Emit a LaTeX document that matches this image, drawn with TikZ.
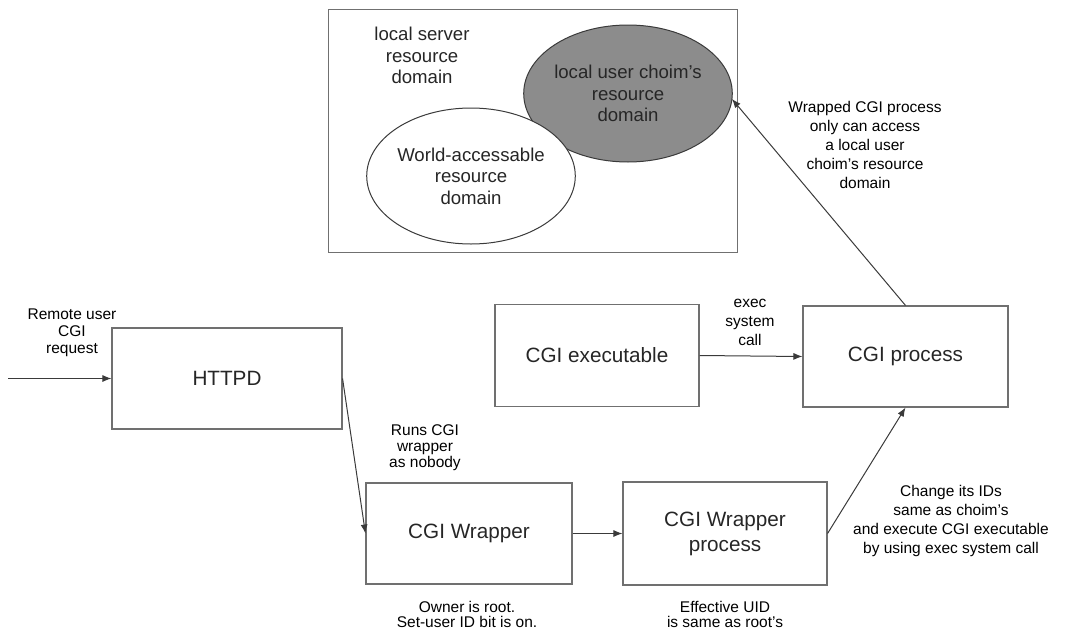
\documentclass[tikz,border=0pt]{standalone}
\usepackage{fontspec}
\setmainfont{Liberation Sans}
\usetikzlibrary{shapes.geometric,arrows.meta}
\definecolor{boxline}{HTML}{707070}
\definecolor{arrline}{HTML}{3A3A3A}
\definecolor{domfill}{HTML}{8C8C8C}
\begin{document}
\begin{tikzpicture}[x=1pt,y=-1pt,
  stepbox/.style={draw=boxline,line width=1.1pt,rectangle,inner sep=0pt,
    align=center,font=\fontsize{20.7}{25}\selectfont,text=black!85},
  dombox/.style={draw=boxline,line width=1pt,rectangle,inner sep=0pt},
  domshape/.style={ellipse,draw=arrline,line width=1pt,inner sep=0pt,outer sep=0pt,
    align=center,font=\fontsize{18.6}{21.5}\selectfont,text=black!85},
  bigtxt/.style={align=center,inner sep=0pt,font=\fontsize{18.6}{21.5}\selectfont,text=black!85},
  note/.style={align=center,inner sep=0pt,text=black},
  arr/.style={draw=arrline,line width=1pt,-{Latex[length=9pt,width=7pt]}}]
\useasboundingbox (0,0) rectangle (1069,635);

% resource domains
\node[dombox,minimum width=409pt,minimum height=243pt] (server) at (532.5,130.5) {};
\node[bigtxt] (servertxt) at (422,55.5) {local server\\resource\\domain};
\node[domshape,fill=domfill,minimum width=208pt,minimum height=137pt] (dark) at (628,93.5)
  {local user choim's\\resource\\domain};
\node[domshape,fill=white,minimum width=204pt,minimum height=136pt] (world) at (471,176)
  {World-accessable\\resource\\domain};

% process boxes
\node[stepbox,minimum width=230pt,minimum height=101pt] (httpd) at (227,378.5) {HTTPD};
\node[stepbox,minimum width=206pt,minimum height=101pt] (wrap) at (469,533.5) {CGI Wrapper};
\node[stepbox,minimum width=204pt,minimum height=103pt] (wproc) at (725,533.5) {CGI Wrapper\\process};
\node[stepbox,minimum width=204pt,minimum height=102pt] (exe) at (597,355.5) {CGI executable};
\node[stepbox,minimum width=205pt,minimum height=101pt] (proc) at (905.5,356.5) {CGI process};

% labels
\node[note,font=\fontsize{15.5}{17}\selectfont] (remote) at (72,333) {Remote user\\CGI\\request};
\node[note,font=\fontsize{15.5}{16}\selectfont] (runs) at (425,448) {Runs CGI\\wrapper\\as nobody};
\node[note,font=\fontsize{15.5}{15.5}\selectfont] (owner) at (467,614.5) {Owner is root.\\Set-user ID bit is on.};
\node[note,font=\fontsize{15.5}{15.5}\selectfont] (euid) at (725,614.5) {Effective UID\\is same as root's};
\node[note,font=\fontsize{15.5}{19}\selectfont] (execl) at (750,322) {exec\\system\\call};
\node[note,font=\fontsize{15.5}{19.2}\selectfont] (wrapped) at (865,145)
  {Wrapped CGI process\\only can access\\a local user\\choim's resource\\domain};
\node[note,font=\fontsize{15.5}{18.8}\selectfont] (change) at (951,521)
  {Change its IDs\\same as choim's\\and execute CGI executable\\by using exec system call};

% connectors
\coordinate (src) at (8,378.5);
\draw[arr] (src) -- (httpd.west);
\draw[arr] (httpd.east) -- (wrap.west);
\draw[arr] (wrap.east) -- (wproc.west);
\draw[arr] (exe.east) -- (proc.west);
\draw[arr] (wproc.east) -- (proc.south);
\draw[arr] (proc.north) -- (dark.-3);
\end{tikzpicture}
\end{document}
